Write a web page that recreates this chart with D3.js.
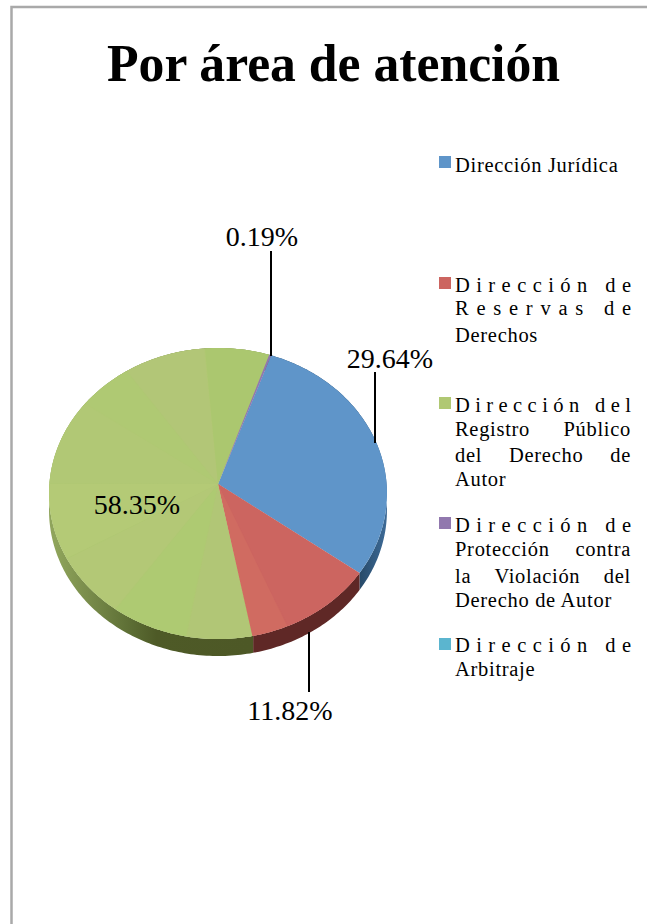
<!DOCTYPE html>
<html>
<head>
<meta charset="utf-8">
<script src="https://cdn.jsdelivr.net/npm/d3@7/dist/d3.min.js"></script>
<style>
  html, body { margin: 0; padding: 0; background: #fff; }
  svg { display: block; }
  text { font-family: "Liberation Serif", serif; fill: #000; }
</style>
</head>
<body>
<svg id="chart" width="647" height="924"></svg>
<script>
const title = 'Por área de atención'
const categories = ['Dirección Jurídica', 'Dirección de Reservas de Derechos', 'Dirección del Registro Público del Derecho de Autor', 'Dirección de Protección contra la Violación del Derecho de Autor', 'Dirección de Arbitraje']
const shares = [29.64, 11.82, 58.35, 0.19, 0]
const shareLabels = ['29.64%', '11.82%', '58.35%', '0.19%', '']
const topColors = ['#5f95c9', '#cc6560', '#b0c873', '#9178ae', '#5bb5cf']
const sideColors = ['#2b4f72', '#5f2826', '#4d5826', '#4a3a60', '#2d6a7c']
// how the legend wraps, and how each line is justified
const legendLines = [
    ['Dirección Jurídica'],
    ['Dirección de', 'Reservas de', 'Derechos'],
    ['Dirección del', 'Registro Público', 'del Derecho de', 'Autor'],
    ['Dirección de', 'Protección contra', 'la Violación del', 'Derecho de Autor'],
    ['Dirección de', 'Arbitraje']
]
const legendJustify = [
    ['plain'],
    ['letters', 'letters', 'plain'],
    ['letters', 'words', 'words', 'plain'],
    ['letters', 'words', 'words', 'plain'],
    ['letters', 'plain']
]

// tonal bands of the 3D surface, degrees clockwise from the top
const bandStarts = [126, 157, 169, 190, 215, 240, 270, 305, 325, 355]
const bandEnds = [157, 169, 190, 215, 240, 270, 305, 325, 355, 379]
const bandTones = ['#cc6560', '#d06b61', '#b1c676', '#aeca72', '#b3c876', '#b4ca76', '#b1c875', '#afc973', '#b2c677', '#abc76f']

const svg = d3.select('#chart')
const apex = { x: 218, y: 484 }
const radiusX = 168.6
const radiusY = 144.9
const tilt = 0.0653      // perspective of the disc
const depth = 17
const startDeg = 19.5
const rad = d => d * Math.PI / 180

// rim point of the tilted disc at an angle (radians, clockwise from the top)
function rim(a, dy = 0) {
    const w = 1 + tilt * Math.cos(a)
    return [apex.x + radiusX * Math.sin(a) / w, apex.y - radiusY * Math.cos(a) / w + dy]
}

function arcPoints(a0, a1, dy = 0) {
    const n = Math.max(2, Math.ceil(Math.abs(a1 - a0) / rad(1)))
    return d3.range(n + 1).map(i => rim(a0 + (a1 - a0) * i / n, dy))
}

const line = d3.line()
const wedge = (a0, a1) => line([[apex.x, apex.y], ...arcPoints(a0, a1)]) + 'Z'

const pie = d3.pie().sort(null).value(d => d)
    .startAngle(rad(startDeg)).endAngle(rad(startDeg + 360))
const slices = pie(shares)
const topColor = d3.scaleOrdinal().domain(categories).range(topColors)
const sideColor = d3.scaleOrdinal().domain(categories).range(sideColors)

// frame, only the top and left edges show
svg.append('path')
    .attr('d', 'M11.5,924V7H647')
    .attr('fill', 'none')
    .attr('stroke', '#a9a9a9')
    .attr('stroke-width', 2.5)

svg.append('text')
    .attr('x', 107).attr('y', 81)
    .attr('font-size', 52)
    .attr('font-weight', 'bold')
    .attr('textLength', 453)
    .attr('lengthAdjust', 'spacingAndGlyphs')
    .text(title)

// side wall gradients
const defs = svg.append('defs')
const greenSide = defs.append('linearGradient').attr('id', 'greenSide')
    .attr('gradientUnits', 'userSpaceOnUse').attr('x1', 55).attr('x2', 250)
    .attr('y1', 0).attr('y2', 0)
greenSide.selectAll('stop')
    .data([[0, '#8fa45b'], [0.2, '#758848'], [0.4, '#5b6c33'], [0.52, '#4e5a27'], [1, '#4d5826']])
    .join('stop')
    .attr('offset', d => d[0]).attr('stop-color', d => d[1])
const blueSide = defs.append('linearGradient').attr('id', 'blueSide')
    .attr('gradientUnits', 'userSpaceOnUse').attr('x1', 358).attr('x2', 386)
    .attr('y1', 0).attr('y2', 0)
blueSide.selectAll('stop')
    .data([[0, '#264866'], [1, '#3d6a96']])
    .join('stop')
    .attr('offset', d => d[0]).attr('stop-color', d => d[1])

// side wall first, then the top face over it
const sideFill = (d, i) => i === 0 ? 'url(#blueSide)' : i === 2 ? 'url(#greenSide)' : sideColor(categories[i])
svg.append('g').selectAll('path')
    .data(slices)
    .join('path')
    .attr('d', d => line([...arcPoints(d.startAngle, d.endAngle), ...arcPoints(d.endAngle, d.startAngle, depth)]) + 'Z')
    .attr('fill', sideFill)

svg.append('g').selectAll('path')
    .data(slices.filter(d => d.value > 0))
    .join('path')
    .attr('d', d => wedge(d.startAngle, d.endAngle))
    .attr('fill', d => topColor(categories[d.index]))

svg.append('g').selectAll('path')
    .data(d3.range(bandStarts.length))
    .join('path')
    .attr('d', i => wedge(rad(bandStarts[i] + 0.3), rad(bandEnds[i])))
    .attr('fill', i => bandTones[i])

// purple sliver goes on top of the bands
svg.append('path')
    .attr('d', wedge(slices[3].startAngle, slices[3].endAngle))
    .attr('fill', topColors[3])

// leader lines
const leaders = [[375, 372, 375, 443], [309, 632, 309, 692], [271, 251, 271, 356]]
svg.append('g').selectAll('line')
    .data(leaders)
    .join('line')
    .attr('x1', d => d[0]).attr('y1', d => d[1])
    .attr('x2', d => d[2]).attr('y2', d => d[3])
    .attr('stroke', '#000')
    .attr('stroke-width', 2)

const labelPos = [[390, 368], [290, 720], [137, 514], [262, 246]]
svg.append('g').selectAll('text')
    .data(shareLabels.filter(d => d))
    .join('text')
    .attr('x', (d, i) => labelPos[i][0])
    .attr('y', (d, i) => labelPos[i][1])
    .attr('text-anchor', 'middle')
    .attr('font-size', 28)
    .text(d => d)

// legend
const swatchY = [156, 277, 397, 517, 638]
const lineY = [[172], [292, 315, 342], [412, 436, 462, 486], [532, 556, 583, 607], [652, 676]]
const legendX = 455
const legendW = 176
const legendSize = 20.5

const legend = svg.append('g')
legend.selectAll('rect')
    .data(categories)
    .join('rect')
    .attr('x', 439)
    .attr('y', (d, i) => swatchY[i])
    .attr('width', 12).attr('height', 12)
    .attr('fill', d => topColor(d))

legendLines.forEach((lines, i) => {
    lines.forEach((txt, j) => {
        const t = legend.append('text')
            .attr('x', legendX)
            .attr('y', lineY[i][j])
            .attr('font-size', legendSize)
            .text(txt)
        const mode = legendJustify[i][j]
        if (mode === 'letters') {
            t.attr('textLength', legendW).attr('lengthAdjust', 'spacing')
        } else {
            // the reference face runs a little wider than Liberation Serif
            t.attr('letter-spacing', 0.7)
            if (mode === 'words') {
                const gaps = txt.split(' ').length - 1
                t.attr('word-spacing', (legendW - t.node().getComputedTextLength()) / gaps)
            }
        }
    })
})
</script>
</body>
</html>
